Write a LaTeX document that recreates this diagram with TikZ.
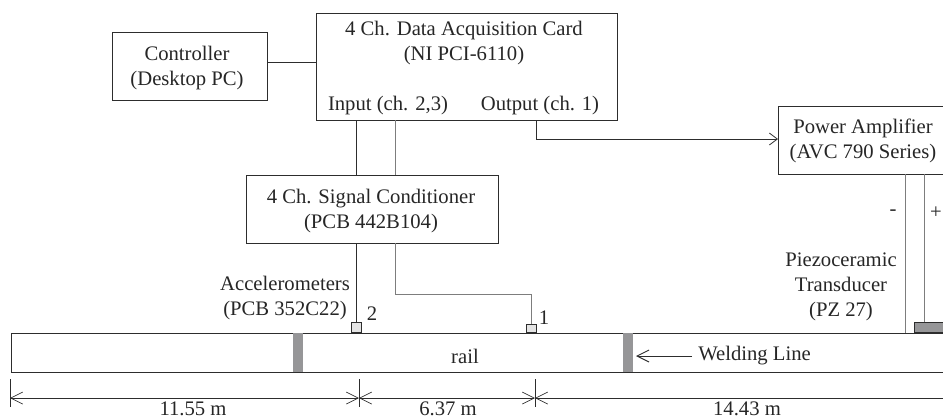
\documentclass[tikz,border=0pt]{standalone}
\usepackage{fontspec}
\setmainfont{Liberation Serif}
\usetikzlibrary{arrows.meta}
\definecolor{weldGray}{RGB}{150, 150, 152}
\definecolor{sensorGray}{RGB}{228, 228, 228}
\definecolor{wireDark}{RGB}{45, 45, 45}
\definecolor{wireGray}{RGB}{125, 125, 125}
\tikzset{
  devbox/.style={draw=wireDark, line width=0.75pt, fill=white, align=center, inner sep=0pt, anchor=north west},
  txt/.style={align=center, inner sep=0pt, text=black!85, font=\fontsize{15.5}{18.8}\selectfont},
  wire/.style={wireDark, line width=0.7pt},
  wiregray/.style={wireGray, line width=0.7pt},
  dimline/.style={wireDark, line width=0.5pt},
  dimarrow/.style={dimline, {Straight Barb[length=9pt,width=9pt,line width=0.5pt]}-{Straight Barb[length=9pt,width=9pt,line width=0.5pt]}},
}

\begin{document}
\begin{tikzpicture}[x=0.75pt, y=-0.75pt]
  \useasboundingbox (0,0) rectangle (943,419);

  % boxes
  \node[devbox, minimum width=116.25pt, minimum height=51pt] (controller) at (112,32) {};
  \node[devbox, minimum width=225.75pt, minimum height=80.25pt] (daq) at (316,13) {};
  \node[devbox, minimum width=189pt, minimum height=51pt] (conditioner) at (246,175) {};
  \node[devbox, minimum width=126pt, minimum height=51pt] (amplifier) at (778,106) {};

  % box texts
  \node[txt] (controllertxt) at (187,68) {Controller\\(Desktop PC)};
  \node[txt] (daqtxt) at (464,43) {4 Ch. Data Acquisition Card\\(NI PCI-6110)};
  \node[txt] (inputtxt) at (388,106) {Input (ch. 2,3)};
  \node[txt] (outputtxt) at (540,106) {Output (ch. 1)};
  \node[txt] (conditionertxt) at (371,211) {4 Ch. Signal Conditioner\\(PCB 442B104)};
  \node[txt] (amplifiertxt) at (863,141) {Power Amplifier\\(AVC 790 Series)};

  % rail
  \node[draw=wireDark, line width=0.75pt, inner sep=0pt, anchor=north west, minimum width=702pt, minimum height=29.25pt] (rail) at (11,333) {};
  \fill[weldGray] (293,333) rectangle (303,372);
  \fill[weldGray] (623,333) rectangle (633,372);
  \node[txt] (railtxt) at (465,356) {rail};

  % sensors
  \node[draw=wireDark, fill=sensorGray, line width=0.6pt, inner sep=0pt, anchor=south, minimum width=7.5pt, minimum height=7.5pt] (acc2) at (356,333) {};
  \node[draw=wireDark, fill=sensorGray, line width=0.6pt, inner sep=0pt, anchor=south, minimum width=7.5pt, minimum height=6pt] (acc1) at (531,333) {};
  \node[draw=wireDark, fill=weldGray, line width=0.6pt, inner sep=0pt, anchor=south west, minimum width=30pt, minimum height=7.5pt] (pzt) at (914,333) {};

  % connections
  \draw[wire] (controller.east |- 0,62) -- (daq.west |- 0,62);
  \draw[wire] (356,120) -- (356,175);
  \draw[wiregray] (395,120) -- (395,175);
  \draw[wire] (356,243) -- (acc2.north);
  \draw[wiregray] (395,243) -- (395,294) -- (531,294) -- (acc1.north);
  \draw[wire, -{Straight Barb[length=6pt,width=9pt,line width=0.6pt]}] (536,120) -- (536,139) -- (amplifier.west |- 0,139);
  \draw[wiregray] (905,174) -- (905,333);
  \draw[wiregray] (924,174) -- (pzt.north -| 924,0);

  % labels
  \node[txt] (minus) at (893,213) {-};
  \node[txt] (plus) at (936,213) {+};
  \node[txt] (pztlabel) at (841,287) {Piezoceramic\\Transducer\\(PZ 27)};
  \node[txt] (acclabel) at (285,298) {Accelerometers\\(PCB 352C22)};
  \node[txt] (lab2) at (372,314) {2};
  \node[txt] (lab1) at (544,318) {1};
  \node[txt, anchor=west] (weldlabel) at (698,356) {Welding Line};
  \coordinate (weldtip) at (636,356);
  \draw[dimline, line width=0.7pt, -{Straight Barb[length=9pt,width=9pt,line width=0.7pt]}] (weldlabel.west) ++(-6,0) -- (weldtip);

  % dimensions
  \foreach \xtick in {10,359,535} {
    \draw[dimline] (\xtick,379) -- (\xtick,407);
  }
  \coordinate (dima) at (10,398);
  \coordinate (dimb) at (359,398);
  \coordinate (dimc) at (535,398);
  \coordinate (dimd) at (943,398);
  \draw[dimarrow] (dima) -- (dimb);
  \draw[dimarrow] (dimb) -- (dimc);
  \draw[dimline, {Straight Barb[length=9pt,width=9pt,line width=0.5pt]}-] (dimc) -- (dimd);
  \node[txt] (dist1) at (193,409) {11.55 m};
  \node[txt] (dist2) at (448,409) {6.37 m};
  \node[txt] (dist3) at (747,409) {14.43 m};
\end{tikzpicture}
\end{document}
